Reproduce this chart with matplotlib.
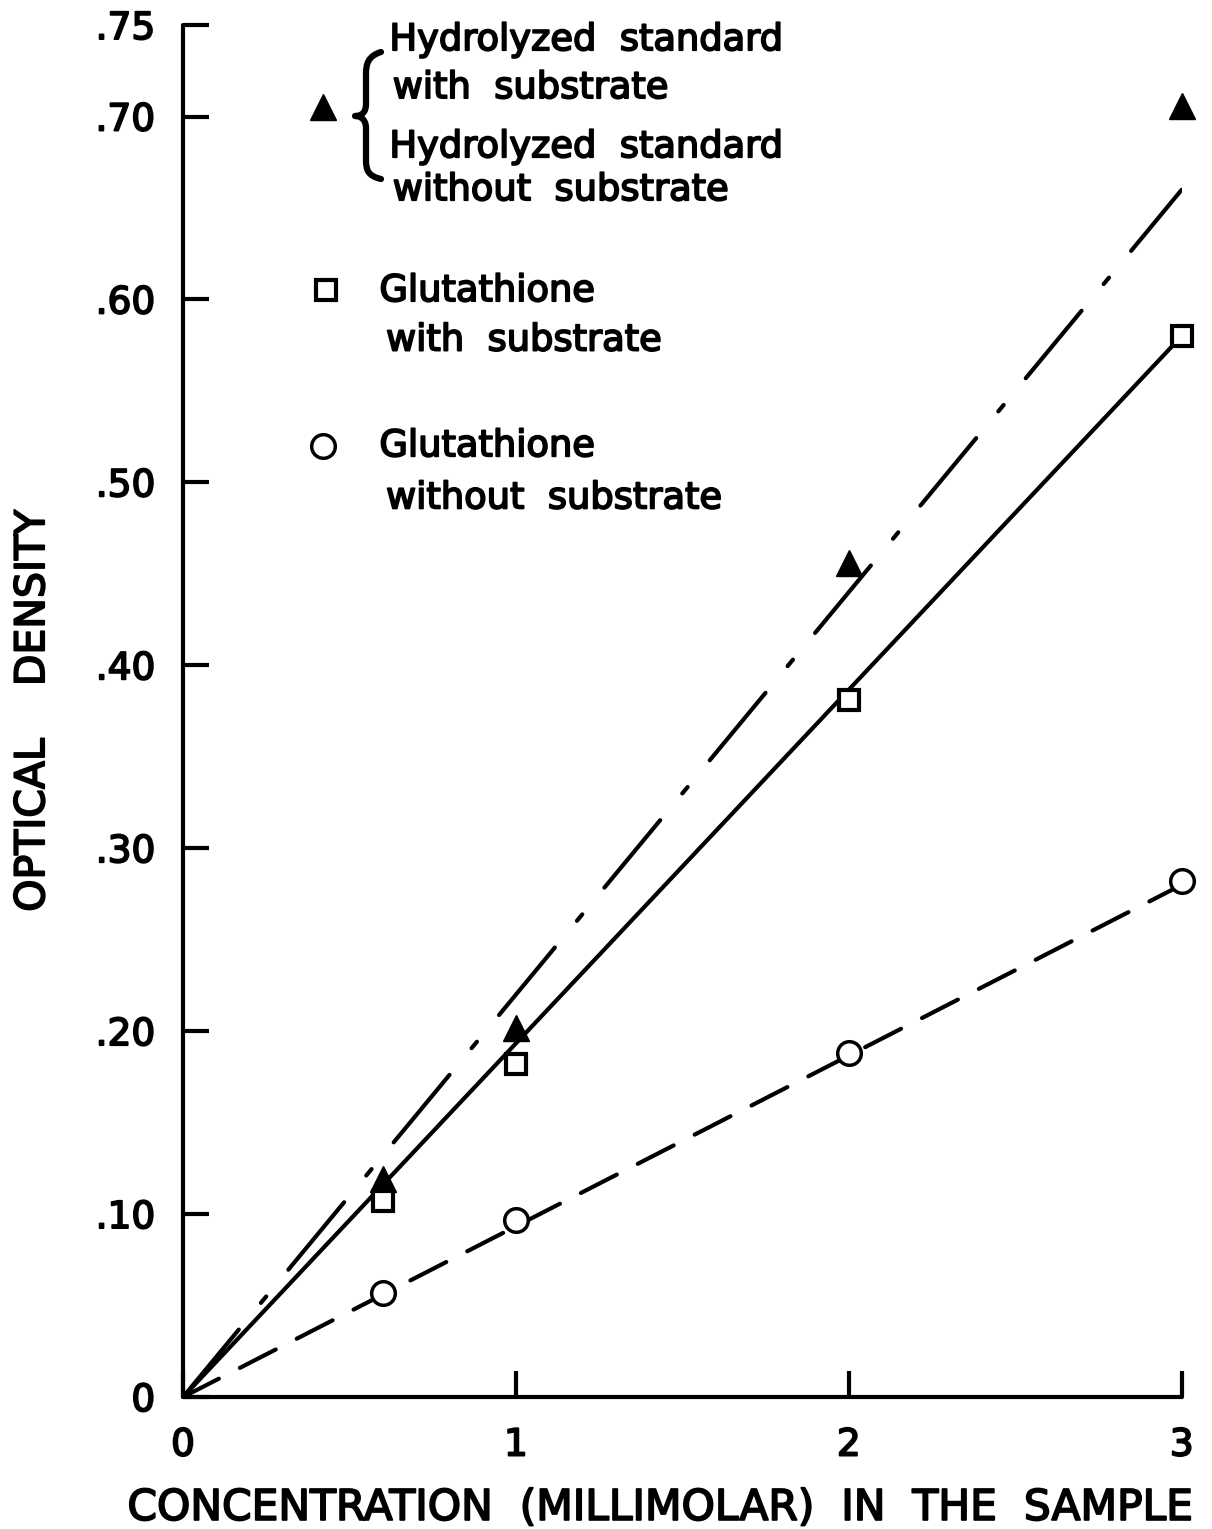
import matplotlib
matplotlib.use('Agg')
import matplotlib.pyplot as plt
import matplotlib.patheffects as pe
from matplotlib.path import Path
from matplotlib.patches import PathPatch

plt.rcParams['font.family'] = ['DejaVu Sans']
plt.rcParams['lines.scale_dashes'] = False

## data
conc = [0.6, 1.0, 2.0, 3.0]
hydrolyzed = [0.119, 0.202, 0.456, 0.706]
gsh_with = [0.107, 0.182, 0.381, 0.580]
gsh_without = [0.057, 0.097, 0.188, 0.282]

## fitted lines drawn through the origin
fit_x = [0.0, 3.0]
fit_hydrolyzed = [0.0, 0.66]
fit_with = [0.0, 0.58]
fit_without = [0.0, 0.28]

yticks = [0.0, 0.10, 0.20, 0.30, 0.40, 0.50, 0.60, 0.70, 0.75]
ytick_labels = ['0', '.10', '.20', '.30', '.40', '.50', '.60', '.70', '.75']
xticks = [0, 1, 2, 3]
xtick_labels = ['0', '1', '2', '3']

W, H = 1212, 1529
fig = plt.figure(figsize=(W / 100, H / 100), dpi=100)
ax = fig.add_axes([0.151, 0.0863, 0.824, 0.8973])

## thicker lettering, like the hand-lettered original
bold = [pe.withStroke(linewidth=1.3, foreground='black')]

lw = 3.0
## lines
ax.plot(fit_x, fit_hydrolyzed, color='black', lw=lw,
        dash_capstyle='round', linestyle=(0, (63, 25, 6, 25)))
ax.plot(fit_x, fit_with, color='black', lw=lw)
ax.plot(fit_x, fit_without, color='black', lw=lw, dash_capstyle='round',
        linestyle=(0, (29, 17)))

## markers
ax.plot(conc, hydrolyzed, linestyle='none', marker='^', markersize=19,
        color='black', clip_on=False, zorder=5)
ax.plot(conc, gsh_with, linestyle='none', marker='s', markersize=15,
        markerfacecolor='white', markeredgecolor='black', markeredgewidth=3,
        clip_on=False, zorder=5)
ax.plot(conc, gsh_without, linestyle='none', marker='o', markersize=17,
        markerfacecolor='white', markeredgecolor='black', markeredgewidth=2.5,
        clip_on=False, zorder=5)

## axes
ax.set_xlim(0, 3)
ax.set_ylim(0, 0.75)
for side in ['top', 'right']:
    ax.spines[side].set_visible(False)
for side in ['left', 'bottom']:
    ax.spines[side].set_linewidth(3)
    ax.spines[side].set_capstyle('round')
ax.set_yticks(yticks)
ax.set_yticklabels(ytick_labels)
ax.set_xticks(xticks)
ax.set_xticklabels(xtick_labels)
ax.tick_params(axis='both', direction='in', length=19, width=3, labelsize=27)
ax.tick_params(axis='y', pad=20)
ax.tick_params(axis='x', pad=22)
for lbl in ax.get_xticklabels() + ax.get_yticklabels():
    lbl.set_path_effects(bold)

ax.set_xlabel('CONCENTRATION  (MILLIMOLAR)  IN  THE  SAMPLE', fontsize=30.5,
              path_effects=bold)
ax.xaxis.set_label_coords(0.4775, -0.0655)
ax.set_ylabel('OPTICAL    DENSITY', fontsize=29.5, path_effects=bold)
ax.yaxis.set_label_coords(-0.13, 0.50)

## legend drawn by hand
txt = dict(fontsize=26.5, va='center', ha='left', transform=ax.transData,
           path_effects=bold)
ax.plot([0.42], [0.705], linestyle='none', marker='^', markersize=19, color='black')

## curly brace (figure pixel coords -> figure fraction)
def px(x, y):
    return (x / W, 1 - y / H)

brace = [px(381, 52), px(368, 56), px(366, 64), px(366, 74),
         px(366, 104),
         px(366, 112), px(362, 116), px(355, 116),
         px(362, 116), px(366, 121), px(366, 128),
         px(366, 160),
         px(366, 170), px(368, 176), px(381, 179)]
codes = [Path.MOVETO, Path.CURVE4, Path.CURVE4, Path.CURVE4,
         Path.LINETO,
         Path.CURVE4, Path.CURVE4, Path.CURVE4,
         Path.CURVE4, Path.CURVE4, Path.CURVE4,
         Path.LINETO,
         Path.CURVE4, Path.CURVE4, Path.CURVE4]
fig.patches.append(PathPatch(Path(brace, codes), transform=fig.transFigure,
                             facecolor='none', edgecolor='black', lw=4.5,
                             capstyle='round', joinstyle='round'))

ax.text(0.62, 0.7420, 'Hydrolyzed  standard', **txt)
ax.text(0.63, 0.7158, 'with  substrate', **txt)
ax.text(0.62, 0.6835, 'Hydrolyzed  standard', **txt)
ax.text(0.63, 0.6600, 'without  substrate', **txt)

ax.plot([0.43], [0.605], linestyle='none', marker='s', markersize=15,
        markerfacecolor='white', markeredgecolor='black', markeredgewidth=3)
ax.text(0.59, 0.6048, 'Glutathione', **txt)
ax.text(0.61, 0.5778, 'with  substrate', **txt)

ax.plot([0.42], [0.520], linestyle='none', marker='o', markersize=17,
        markerfacecolor='white', markeredgecolor='black', markeredgewidth=2.5)
ax.text(0.59, 0.5200, 'Glutathione', **txt)
ax.text(0.61, 0.4915, 'without  substrate', **txt)

fig.savefig('out.png', dpi=100)
